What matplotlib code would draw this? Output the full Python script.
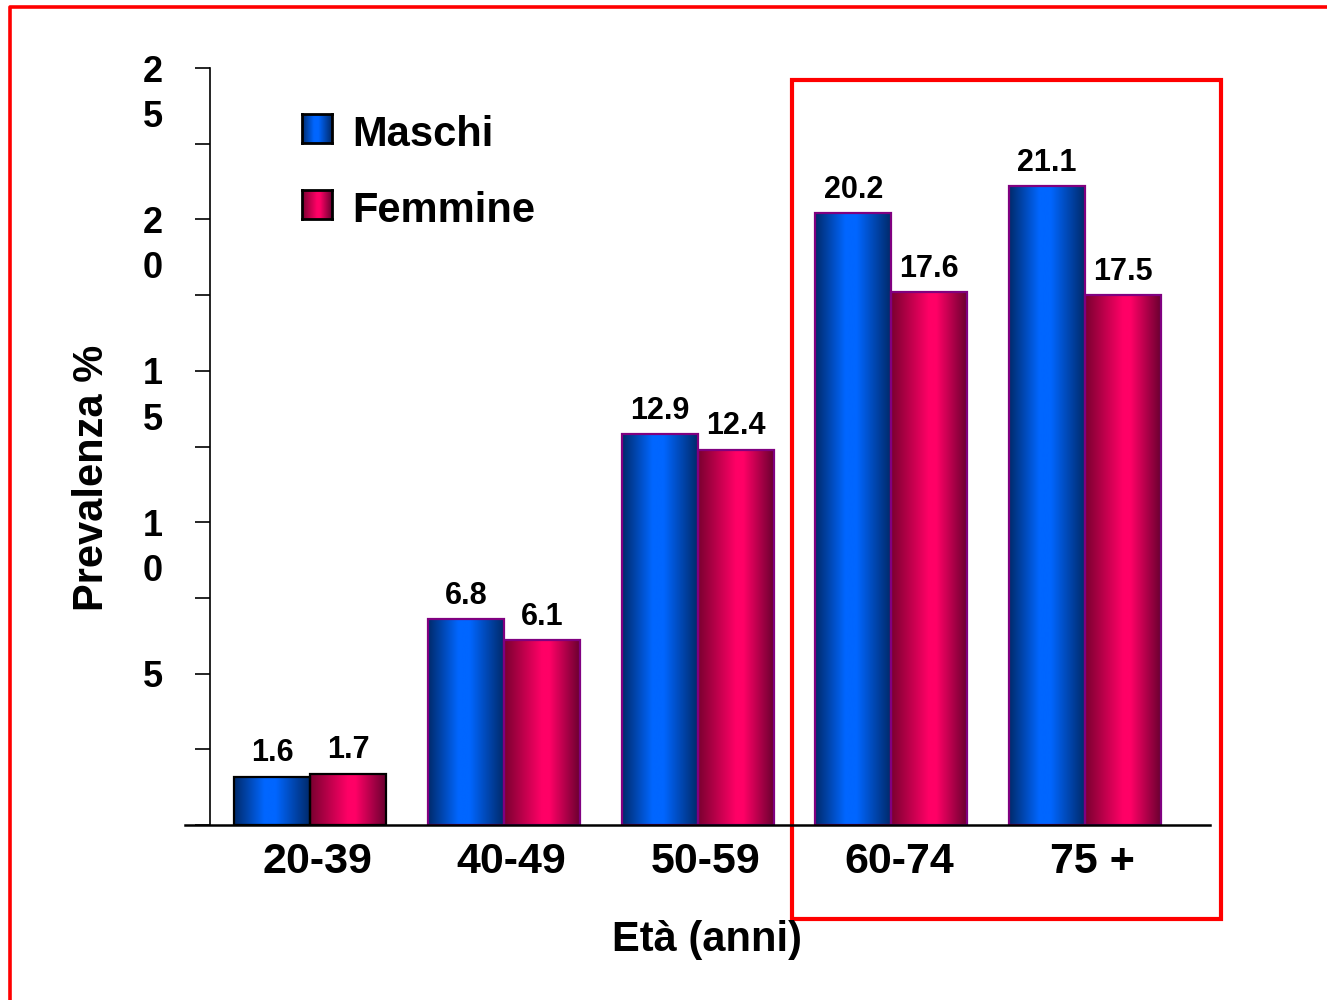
import numpy as np
import matplotlib
matplotlib.use('Agg')
import matplotlib.pyplot as plt
from matplotlib.colors import LinearSegmentedColormap
from matplotlib.patches import Rectangle
from matplotlib.lines import Line2D
from matplotlib import transforms

plt.rcParams['font.family'] = ['Liberation Sans', 'DejaVu Sans']
plt.rcParams['font.weight'] = 'bold'

# prevalenza per fascia d'età
eta = ['20-39', '40-49', '50-59', '60-74', '75 +']
maschi = [1.6, 6.8, 12.9, 20.2, 21.1]
femmine = [1.7, 6.1, 12.4, 17.6, 17.5]
bordi = ['black', '#800080', '#800080', '#800080', '#800080']
tick_val = [5, 10, 15, 20, 25]
tick_txt = ['5', '10', '15', '20', '25']

# sfumature "cilindro" delle barre
blu = LinearSegmentedColormap.from_list('blu', [(0, '#002a6a'), (0.4, '#0066ff'), (0.55, '#0066ff'), (1, '#002a6a')])
ros = LinearSegmentedColormap.from_list('ros', [(0, '#7a0030'), (0.5, '#ff0066'), (0.6, '#ff0066'), (1, '#6a0030')])
grad = np.linspace(0, 1, 256).reshape(1, -1)

W = 0.392
fig = plt.figure(figsize=(13.27, 10), dpi=100)
ax = fig.add_axes([210 / 1327, 0.175, 1000 / 1327, 0.757])


def barra(x, h, cmap, edge):
    ax.imshow(grad, cmap=cmap, extent=[x, x + W, 0, h], aspect='auto', zorder=2)
    ax.add_patch(Rectangle((x, 0), W, h, fill=False, ec=edge, lw=1.6, zorder=3))
    ax.annotate(f'{h:.1f}', (x + W / 2, h), xytext=(0, 6), textcoords='offset points',
                ha='center', va='bottom', fontsize=22)


for i in range(len(eta)):
    barra(i - W, maschi[i], blu, bordi[i])
    barra(i, femmine[i], ros, bordi[i])

ax.set_xlim(-0.517, 4.645)
ax.set_ylim(0, 25)
for s in ['top', 'right', 'bottom']:
    ax.spines[s].set_visible(False)
ax.spines['left'].set_linewidth(1.2)
ax.set_xticks([])
ax.set_yticks(np.arange(0, 25.1, 2.5))
ax.tick_params(axis='y', direction='out', length=11, width=1.2, labelleft=False)

# etichette asse y, una cifra per riga
tr = transforms.blended_transform_factory(fig.transFigure, ax.transData)
for v, t in zip(tick_val, tick_txt):
    for k, c in enumerate(t):
        ax.annotate(c, (153 / 1327, v), xycoords=tr, xytext=(0, -3 - 32.5 * k),
                    textcoords='offset points', ha='center', va='center', fontsize=26)

# etichette categorie
trx = transforms.blended_transform_factory(ax.transData, fig.transFigure)
for i, e in enumerate(eta):
    ax.text(i + 0.04, 1 - 862 / 1000, e, transform=trx, ha='center', va='center', fontsize=31)

# asse x
fig.add_artist(Line2D([185 / 1327, 1210 / 1327], [0.175, 0.175], color='black', lw=1.8))

fig.text(92 / 1327, 1 - 478 / 1000, 'Prevalenza %', rotation=90, ha='center', va='center', fontsize=30)
fig.text(707 / 1327, 1 - 940 / 1000, 'Età (anni)', ha='center', va='center', fontsize=30)

# legenda
for y0, cmap, lab in [(114, blu, 'Maschi'), (190, ros, 'Femmine')]:
    lax = fig.add_axes([302 / 1327, 1 - (y0 + 29) / 1000, 30 / 1327, 29 / 1000])
    lax.imshow(grad, cmap=cmap, aspect='auto')
    lax.set_xticks([])
    lax.set_yticks([])
    for s in lax.spines.values():
        s.set_linewidth(2)
    fig.text(352 / 1327, 1 - (y0 + 21) / 1000, lab, ha='left', va='center', fontsize=30)

# riquadro rosso sulle fasce più anziane
fig.add_artist(Rectangle((792 / 1327, 1 - 919 / 1000), 429 / 1327, 839 / 1000, transform=fig.transFigure,
                         fill=False, ec='#ff0000', lw=3))
# cornice
fig.add_artist(Line2D([10 / 1327, 10 / 1327, 1], [0, 0.993, 0.993], color='#ff0000', lw=2.6))

fig.savefig('out.png', dpi=100)
